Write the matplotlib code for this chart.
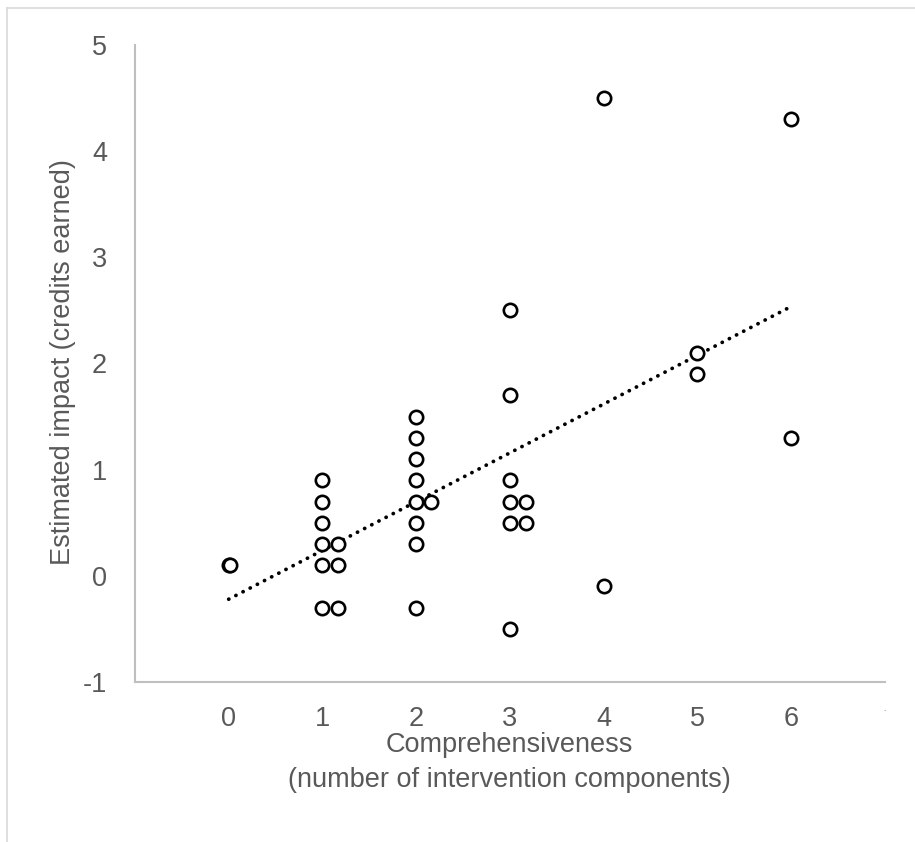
"""Scatter of estimated impact vs comprehensiveness with a linear trend line."""
import matplotlib.pyplot as plt
import numpy as np
from matplotlib.lines import Line2D

plt.rcParams["font.family"] = ["Liberation Sans", "DejaVu Sans"]

# components (with small manual offsets so overlapping points stay visible)
components = [0, 0.01,
              1, 1, 1, 1, 1, 1, 1.17, 1.17, 1.17,
              2, 2, 2, 2, 2, 2, 2, 2, 2.16,
              3, 3, 3, 3, 3, 3, 3.17, 3.17,
              4, 4,
              5, 5,
              6, 6]
impact = [0.1, 0.1,
          0.9, 0.7, 0.5, 0.3, 0.1, -0.3, 0.3, 0.1, -0.3,
          1.5, 1.3, 1.1, 0.9, 0.7, 0.5, 0.3, -0.3, 0.7,
          2.5, 1.7, 0.9, 0.7, 0.5, -0.5, 0.7, 0.5,
          4.5, -0.1,
          2.1, 1.9,
          4.3, 1.3]
x_ticks = [0, 1, 2, 3, 4, 5, 6, 7]
x_tick_labels = ["0", "1", "2", "3", "4", "5", "6", "."]
y_ticks = [-1, 0, 1, 2, 3, 4, 5]

grey = "#595959"
fs = 19.5
fig = plt.figure(figsize=(9.15, 8.42), dpi=100)
ax = fig.add_axes([0.1475, 0.19, 0.8195, 0.7566])

x = np.array(components)
y = np.array(impact)
ax.plot(x, y, "o", ms=9.6, mfc="white", mec="black", mew=1.9, zorder=3)

# least squares trend over the plotted range
slope, intercept = np.polyfit(x, y, 1)
xt = np.array([0, 6])
ax.plot(xt, slope * xt + intercept, color="black", lw=2.7,
        linestyle=(0, (0.05, 2.1)), dash_capstyle="round", zorder=2)

ax.set_xlim(-1, 7)
ax.set_ylim(-1, 5)
ax.set_xticks(x_ticks, x_tick_labels)
ax.set_yticks(y_ticks, [str(v) for v in y_ticks])
ax.tick_params(length=0, labelsize=fs, labelcolor=grey)
ax.tick_params(axis="x", pad=17)
ax.tick_params(axis="y", pad=20)
ax.get_xticklabels()[-1].set_fontsize(6)
for side in ("top", "right"):
    ax.spines[side].set_visible(False)
for side in ("left", "bottom"):
    ax.spines[side].set_color("#bfbfbf")
    ax.spines[side].set_linewidth(1.5)

fig.text(0.069, 0.570, "Estimated impact (credits earned)", rotation=90,
         ha="center", va="center", fontsize=fs, color=grey)
fig.text(0.557, 0.095, "Comprehensiveness\n(number of intervention components)",
         ha="center", va="center", fontsize=fs, color=grey, linespacing=1.45)

# thin frame along the top and left edges
fig.add_artist(Line2D([0.0077, 1.0], [0.9905, 0.9905], transform=fig.transFigure,
                      color="#d9d9d9", lw=1.2))
fig.add_artist(Line2D([0.0077, 0.0077], [0.0, 0.9905], transform=fig.transFigure,
                      color="#d9d9d9", lw=1.2))

fig.savefig("out.png", dpi=100)
plt.close(fig)
